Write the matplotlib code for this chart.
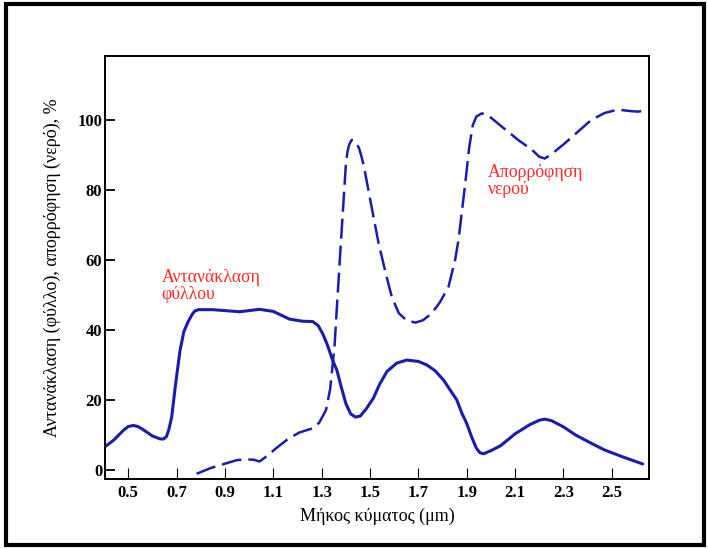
import matplotlib.pyplot as plt
from matplotlib.patches import Rectangle

# leaf reflectance (solid)
leaf_x = [0.405, 0.44, 0.48, 0.50, 0.522, 0.54, 0.56, 0.60, 0.63, 0.645, 0.658, 0.668, 0.68,
          0.695, 0.714, 0.73, 0.748, 0.765, 0.775, 0.79, 0.85, 0.961, 1.043, 1.10, 1.167,
          1.22, 1.263, 1.285, 1.304, 1.325, 1.345, 1.363, 1.38, 1.40, 1.42, 1.44, 1.46,
          1.485, 1.514, 1.54, 1.57, 1.61, 1.652, 1.70, 1.735, 1.77, 1.804, 1.83, 1.859,
          1.88, 1.90, 1.92, 1.94, 1.955, 1.97, 2.00, 2.04, 2.10, 2.16, 2.20, 2.223, 2.25,
          2.30, 2.35, 2.41, 2.47, 2.55, 2.628]
leaf_y = [6.7, 8.5, 11.3, 12.4, 12.7, 12.4, 11.6, 9.7, 8.9, 8.8, 9.5, 11.5, 15.2,
          24, 34, 39.5, 42.4, 44.5, 45.4, 45.8, 45.8, 45.2, 45.9, 45.3, 43.1,
          42.5, 42.4, 41.3, 39, 35.5, 31.4, 28.5, 24, 19, 16, 15.1, 15.4,
          17.5, 20.5, 24.5, 28.1, 30.5, 31.4, 31, 30, 28.3, 25.7, 23, 20,
          16.2, 13.3, 9.5, 6.2, 4.9, 4.6, 5.5, 6.9, 10.3, 12.9, 14.2, 14.5, 14.1,
          12.3, 10, 7.8, 5.7, 3.6, 1.7]

# water absorption (dashed)
water_x = [0.783, 0.84, 0.906, 0.95, 0.988, 1.02, 1.043, 1.075, 1.112, 1.16, 1.208,
           1.263, 1.29, 1.318, 1.335, 1.353, 1.376, 1.40, 1.407, 1.414, 1.424, 1.434,
           1.445, 1.455, 1.465, 1.475, 1.509, 1.535, 1.565, 1.59, 1.619, 1.65, 1.688,
           1.72, 1.756, 1.79, 1.825, 1.852, 1.866, 1.894, 1.91, 1.925, 1.94, 1.962,
           1.985, 2.003, 2.113, 2.17, 2.20, 2.223, 2.25, 2.305, 2.415, 2.47, 2.525,
           2.57, 2.607, 2.641]
water_y = [-1.1, 0.5, 1.9, 2.8, 3.0, 2.9, 2.4, 4.0, 6.2, 8.8, 10.7,
           11.9, 13.5, 17.1, 23, 35, 61, 87, 91, 93, 94.3, 94.1,
           93.2, 91.9, 89.5, 86.7, 74.3, 65, 56.2, 49.5, 44.8, 42.8, 42.1,
           42.8, 44.8, 48, 52.4, 60, 65.7, 81.9, 92, 98.5, 101, 101.9,
           101.5, 100.5, 94.3, 91.5, 89.5, 89, 90.2, 93.3, 100, 102, 103,
           102.6, 102.4, 102.7]

xticks = [0.5, 0.7, 0.9, 1.1, 1.3, 1.5, 1.7, 1.9, 2.1, 2.3, 2.5]
xticklabels = ['0.5', '0.7', '0.9', '1.1', '1.3', '1.5', '1.7', '1.9', '2.1', '2.3', '2.5']
yticks = [0, 20, 40, 60, 80, 100]

blue = '#1c1cac'
red = '#ff2a2a'
serif = ['Liberation Serif', 'DejaVu Serif']

fig = plt.figure(figsize=(7.08, 5.49), dpi=100)
ax = fig.add_axes([105 / 708, 1 - 479 / 549, 544 / 708, 423 / 549])

ax.plot(leaf_x, leaf_y, color=blue, lw=2.2, solid_capstyle='round', solid_joinstyle='round')
ax.plot(water_x, water_y, color=blue, lw=1.8, linestyle=(0, (8, 2.8)))

ax.set_xlim(0.404, 2.654)
ax.set_ylim(-2.6, 118.3)
ax.set_xticks(xticks)
ax.set_xticklabels(xticklabels)
ax.set_yticks(yticks)
ax.tick_params(axis='x', direction='in', length=8, width=0.8, pad=4)
ax.tick_params(axis='y', direction='in', length=7, width=1.3, pad=2)
for lab in ax.get_xticklabels() + ax.get_yticklabels():
    lab.set_family(serif)
    lab.set_fontsize(12)
    lab.set_fontweight('bold')
for s in ax.spines.values():
    s.set_linewidth(1.4)

ax.set_xlabel('Μήκος κύματος (μm)', family=serif, fontsize=13, labelpad=5)
ax.set_ylabel('Αντανάκλαση (φύλλο), απορρόφηση (νερό), %', family=serif,
              fontsize=13, labelpad=12)

ax.text(0.638, 57.5, 'Αντανάκλαση\nφύλλου', color=red, family=serif, fontsize=12.8,
        va='top', linespacing=1.0)
ax.text(1.988, 87.5, 'Απορρόφηση\nνερού', color=red, family=serif, fontsize=12.8,
        va='top', linespacing=1.0)

# outer frame
fig.patches.append(Rectangle((6 / 708, 4 / 549), 698 / 708, 541 / 549,
                             transform=fig.transFigure, fill=False,
                             edgecolor='black', linewidth=3))

fig.savefig('out.png', dpi=100)
